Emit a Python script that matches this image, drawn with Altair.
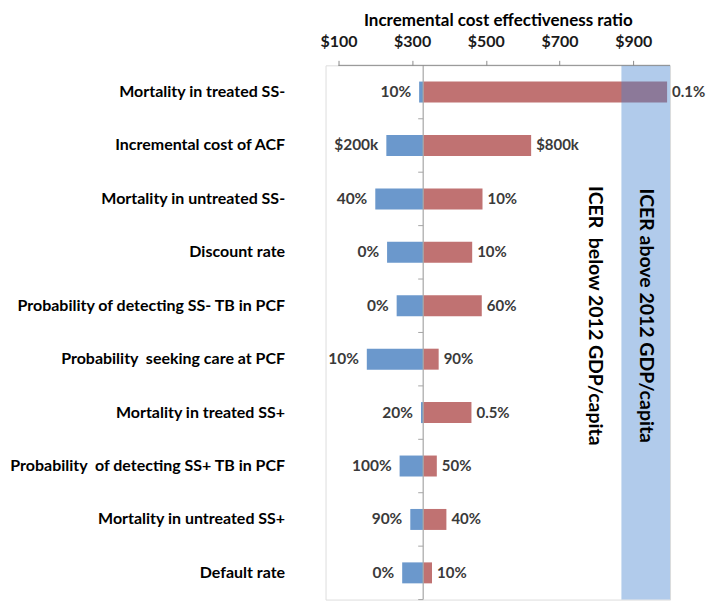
import altair as alt
import pandas as pd

params = [
    "Mortality in treated SS-",
    "Incremental cost of ACF",
    "Mortality in untreated SS-",
    "Discount rate",
    "Probability of detecting SS- TB in PCF",
    "Probability  seeking care at PCF",
    "Mortality in treated SS+",
    "Probability  of detecting SS+ TB in PCF",
    "Mortality in untreated SS+",
    "Default rate",
]
low_icer = [319, 230, 200, 232, 258, 177, 324, 266, 295, 273]
high_icer = [992, 623, 491, 463, 489, 372, 461, 367, 393, 354]
low_labels = ["10%", "$200k", "40%", "0%", "0%", "10%", "20%", "100%", "90%", "0%"]
high_labels = ["0.1%", "$800k", "10%", "10%", "60%", "90%", "0.5%", "50%", "40%", "10%"]

BASE_ICER = 330
GDP_PER_CAPITA = 868
X_MIN, X_MAX = 65, 1000
tick_values = [100, 300, 500, 700, 900]

band_texts = ["ICER  below 2012 GDP/capita", "ICER above 2012 GDP/capita"]
band_text_x = [795, 934]

FONT = "Lato"
NBSP = "\u00a0"

df = pd.DataFrame({
    "param": params,
    "low": low_icer,
    "high": high_icer,
    "low_label": low_labels,
    "high_label": high_labels,
})
df["base"] = BASE_ICER

band_df = pd.DataFrame({"x": [GDP_PER_CAPITA], "x2": [X_MAX]})
axis_df = pd.DataFrame({"x": [tick_values[0]], "x2": [X_MAX]})
txt_df = pd.DataFrame({"x": band_text_x,
                       "text": [t.replace("  ", " " + NBSP) for t in band_texts],
                       "param": [params[4]] * 2})

xscale = alt.Scale(domain=[X_MIN, X_MAX], nice=False, zero=False)
yscale = alt.Scale(paddingInner=0, paddingOuter=0)

xenc = alt.X(
    "low:Q", scale=xscale,
    axis=alt.Axis(
        orient="top", values=tick_values, labelExpr="'$' + datum.value",
        title="Incremental cost effectiveness ratio", titleFontSize=17,
        titleFont=FONT, titleFontWeight="bold", titleColor="#000000",
        titlePadding=4, labelFont=FONT, labelFontSize=16,
        labelFontWeight="bold", labelColor="#1a1a1a", labelPadding=11,
        tickSize=5, tickColor="#8c8c8c", domain=False, grid=False,
    ),
)
yenc = alt.Y(
    "param:N", sort=params, scale=yscale,
    axis=alt.Axis(
        title=None, ticks=False, domain=False, labelPadding=41,
        labelFont=FONT, labelFontSize=16, labelFontWeight="bold",
        labelColor="#000000", labelLimit=400,
        labelExpr="replace(datum.label, '  ', ' " + NBSP + "')",
    ),
)

base = alt.Chart(df)

blue = base.mark_bar(size=21, color="#6B98CC").encode(
    x=xenc, x2="base:Q", y=yenc
)
red = base.mark_bar(size=21, color="#C07272").encode(
    x="base:Q", x2="high:Q", y=alt.Y("param:N", sort=params)
)

band = alt.Chart(band_df).mark_rect(color="#4583CF", opacity=0.42).encode(
    x="x:Q", x2="x2:Q"
)

base_rule = alt.Chart(pd.DataFrame({"x": [BASE_ICER]})).mark_rule(
    color="#a6a6a6", strokeWidth=1.2
).encode(x="x:Q")

tick_rules = base.mark_rule(color="#a6a6a6", strokeWidth=1, x2Offset=-5).encode(
    x="base:Q", x2="base:Q",
    y=alt.Y("param:N", sort=params, bandPosition=1),
)

axis_line = alt.Chart(axis_df).mark_rule(color="#8c8c8c", strokeWidth=1).encode(
    x="x:Q", x2="x2:Q", y=alt.value(0)
)

low_text = base.mark_text(
    align="right", baseline="middle", dx=-8, font=FONT, fontSize=15.5,
    fontWeight="bold", color="#3a3a3a"
).encode(x="low:Q", y=alt.Y("param:N", sort=params), text="low_label:N")

high_text = base.mark_text(
    align="left", baseline="middle", dx=5, font=FONT, fontSize=15,
    fontWeight="bold", color="#3a3a3a"
).encode(x="high:Q", y=alt.Y("param:N", sort=params), text="high_label:N")

band_text = alt.Chart(txt_df).mark_text(
    angle=90, align="center", baseline="middle", dx=10, font=FONT,
    fontSize=19.5, fontWeight="bold", color="#000000"
).encode(x="x:Q", y=alt.Y("param:N", sort=params), text="text:N")

chart = alt.layer(
    blue, red, base_rule, tick_rules, band, axis_line, low_text, high_text,
    band_text
).properties(
    width=345, height=535,
    padding={"top": 3, "left": 0, "right": 0, "bottom": 0},
).configure_view(
    fill="#EEF3FA", stroke=None
).configure(
    background="white"
)

chart.save("out.html", embed_options={"renderer": "svg", "actions": False})
